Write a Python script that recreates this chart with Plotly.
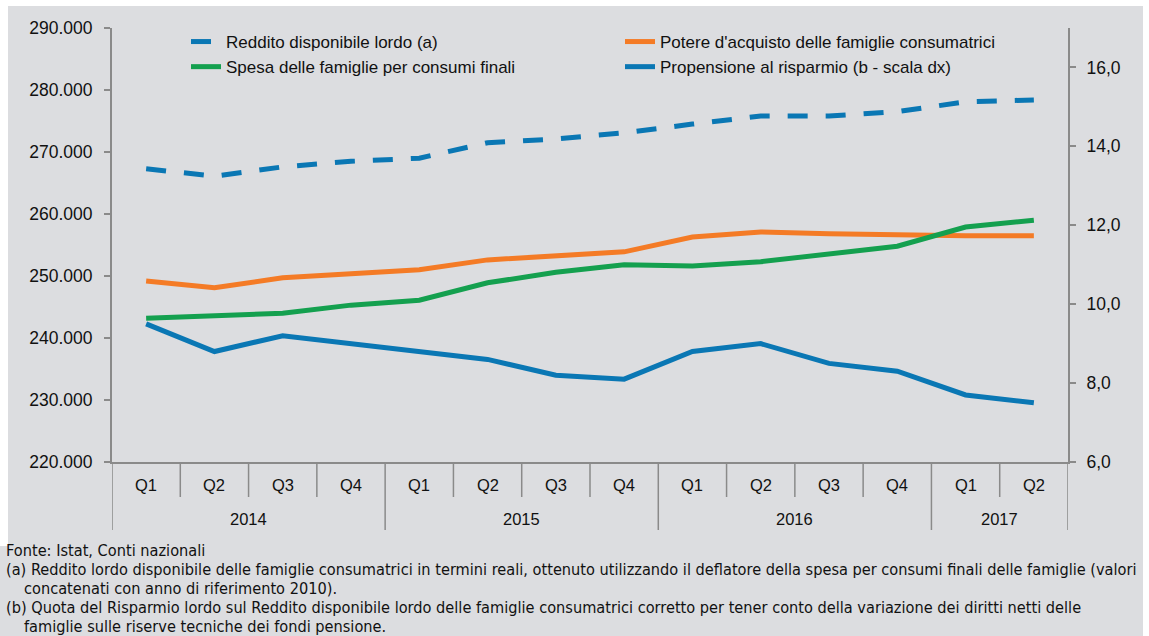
import plotly.graph_objects as go

# ---------------- data ----------------
years = ["2014", "2015", "2016", "2017"]
quarters = ["Q1", "Q2", "Q3", "Q4", "Q1", "Q2", "Q3", "Q4", "Q1", "Q2", "Q3", "Q4", "Q1", "Q2"]
period_year = ["2014"] * 4 + ["2015"] * 4 + ["2016"] * 4 + ["2017"] * 2
categories = [f"{y} {q}" for y, q in zip(period_year, quarters)]

reddito = [267300, 266100, 267600, 268500, 269000, 271500, 272100, 273100,
           274500, 275800, 275800, 276500, 278100, 278400]
potere = [249200, 248100, 249700, 250300, 251000, 252600, 253200, 253900,
          256300, 257100, 256800, 256600, 256500, 256500]
spesa = [243200, 243700, 244000, 245300, 246100, 248900, 250600, 251800,
         251600, 252300, 253500, 254800, 257900, 259000]
propensione = [9.5, 8.8, 9.2, 9.0, 8.8, 8.6, 8.2, 8.1,
               8.8, 9.0, 8.5, 8.3, 7.7, 7.5]

names = ["Reddito disponibile lordo (a)",
         "Potere d'acquisto delle famiglie consumatrici",
         "Spesa delle famiglie per consumi finali",
         "Propensione al risparmio (b - scala dx)"]

notes = [
    "Fonte: Istat, Conti nazionali",
    "(a) Reddito lordo disponibile delle famiglie consumatrici in termini reali, ottenuto utilizzando il deflatore della spesa per consumi finali delle famiglie (valori",
    "concatenati con anno di riferimento 2010).",
    "(b) Quota del Risparmio lordo sul Reddito disponibile lordo delle famiglie consumatrici corretto per tener conto della variazione dei diritti netti delle",
    "famiglie sulle riserve tecniche dei fondi pensione.",
]

# ---------------- styling ----------------
BLUE = "#0a77b4"
ORANGE = "#f47b26"
GREEN = "#14a04f"
AXIS = "#8a8a8a"
BG = "#dcdde0"
FONT = "Liberation Sans, Arial, sans-serif"

W, H = 1149, 636
L, R, T, B = 112, 1068, 28, 462


def px(x):
    return (x - L) / (R - L)


def py(y):
    return (B - y) / (B - T)


fig = go.Figure()
fig.add_trace(go.Scatter(x=categories, y=reddito, name=names[0], mode="lines",
                         line=dict(color=BLUE, width=5, dash="20px,18px")))
fig.add_trace(go.Scatter(x=categories, y=potere, name=names[1], mode="lines",
                         line=dict(color=ORANGE, width=5)))
fig.add_trace(go.Scatter(x=categories, y=spesa, name=names[2], mode="lines",
                         line=dict(color=GREEN, width=5)))
fig.add_trace(go.Scatter(x=categories, y=propensione, name=names[3], mode="lines",
                         line=dict(color=BLUE, width=5), yaxis="y2"))

shapes = [
    dict(type="rect", xref="paper", yref="paper", layer="below",
         x0=px(8), x1=px(1143), y0=py(6), y1=py(546), fillcolor=BG, line_width=0),
    dict(type="rect", xref="paper", yref="paper", layer="below",
         x0=px(0), x1=px(1143), y0=py(546), y1=py(640), fillcolor=BG, line_width=0),
]
# quarter / year dividers
n = len(categories)
for k in range(n + 1):
    xb = k - 0.5
    year_edge = k == 0 or k == n or period_year[k] != period_year[k - 1]
    shapes.append(dict(type="line", xref="x", yref="paper", x0=xb, x1=xb,
                       y0=0, y1=py(530 if year_edge else 497),
                       line=dict(color=AXIS, width=1.5)))

annotations = []
for i, q in enumerate(quarters):
    annotations.append(dict(x=i, y=py(485), xref="x", yref="paper", text=q,
                            showarrow=False, xanchor="center", yanchor="middle",
                            font=dict(size=16.5, color="#111")))
for yr in years:
    idx = [i for i, p in enumerate(period_year) if p == yr]
    annotations.append(dict(x=(idx[0] + idx[-1]) / 2, y=py(519), xref="x", yref="paper",
                            text=yr, showarrow=False, xanchor="center", yanchor="middle",
                            font=dict(size=16.5, color="#111")))

note_y = [550, 569, 588, 607, 626]
note_x = [4, 4, 22, 4, 22]
for t, yy, xx in zip(notes, note_y, note_x):
    annotations.append(dict(x=px(xx), y=py(yy), xref="paper", yref="paper", text=t,
                            showarrow=False, xanchor="left", yanchor="middle",
                            font=dict(size=16.2, color="#111",
                                      family="Liberation Sans Narrow, DejaVu Sans Condensed, Liberation Sans, sans-serif")))

fig.update_layout(
    width=W, height=H,
    margin=dict(l=L, r=W - R, t=T, b=H - B, pad=0),
    paper_bgcolor="white", plot_bgcolor=BG,
    separators=",.",
    font=dict(family=FONT, size=16, color="#111"),
    showlegend=True,
    legend=dict(orientation="h", x=px(186), y=py(24), xanchor="left", yanchor="top",
                entrywidth=389, entrywidthmode="pixels", bgcolor="rgba(0,0,0,0)",
                font=dict(size=17, color="#111"), traceorder="normal"),
    xaxis=dict(type="category", range=[-0.5, n - 0.5], showticklabels=False,
               showline=True, linecolor=AXIS, linewidth=2, ticks="", showgrid=False,
               zeroline=False, fixedrange=True),
    yaxis=dict(range=[220000, 290000], dtick=10000, tick0=220000, tickformat=",d",
               showline=True, linecolor=AXIS, linewidth=2, ticks="outside", ticklen=6,
               tickcolor=AXIS, tickwidth=1.5, showgrid=False, zeroline=False,
               ticklabelstandoff=8, tickfont=dict(size=17.5, color="#111")),
    yaxis2=dict(range=[6, 17], dtick=2, tick0=6, tickformat=".1f", overlaying="y",
                side="right", showline=True, linecolor=AXIS, linewidth=2,
                ticks="outside", ticklen=6, tickcolor=AXIS, tickwidth=1.5,
                showgrid=False, zeroline=False, ticklabelstandoff=7,
                tickfont=dict(size=17.5, color="#111")),
    shapes=shapes,
    annotations=annotations,
)

fig.write_html("out.html", config={"displayModeBar": False},
               post_script="document.body.style.margin='0px';document.body.style.padding='0px';document.body.style.overflow='hidden';")
